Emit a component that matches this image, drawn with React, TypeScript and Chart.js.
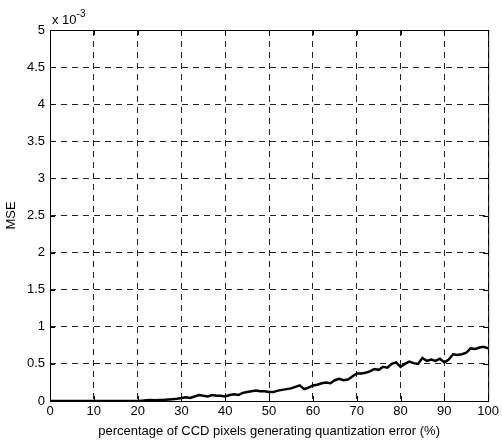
import React, { useEffect, useRef } from "react";
import { Chart, registerables } from "chart.js";

Chart.register(...registerables);

const percentages: number[] = Array.from({ length: 101 }, (_, i) => i);
// MSE values in units of 1e-3 at 1% steps
const mseValues: number[] = [
  0, 0, 0, 0, 0, 0, 0, 0, 0, 0,
  0, 0, 0, 0, 0, 0, 0, 0, 0, 0,
  0, 0.005, 0.01, 0.012, 0.01, 0.015, 0.015, 0.02, 0.025, 0.03,
  0.04, 0.05, 0.04, 0.06, 0.08, 0.07, 0.06, 0.08, 0.07, 0.07,
  0.06, 0.08, 0.09, 0.08, 0.11, 0.12, 0.13, 0.14, 0.13, 0.13,
  0.12, 0.12, 0.14, 0.15, 0.16, 0.17, 0.19, 0.21, 0.16, 0.18,
  0.21, 0.22, 0.24, 0.25, 0.24, 0.28, 0.30, 0.28, 0.29, 0.33,
  0.37, 0.37, 0.38, 0.40, 0.43, 0.42, 0.46, 0.45, 0.50, 0.52,
  0.46, 0.50, 0.53, 0.51, 0.50, 0.58, 0.54, 0.56, 0.54, 0.57,
  0.52, 0.56, 0.63, 0.62, 0.63, 0.65, 0.71, 0.70, 0.72, 0.73,
  0.71,
];
const xTicks: number[] = [0, 10, 20, 30, 40, 50, 60, 70, 80, 90, 100];
const yTicks: number[] = [0, 0.5, 1, 1.5, 2, 2.5, 3, 3.5, 4, 4.5, 5];
const xLabel = "percentage of CCD pixels generating quantization error (%)";
const yLabel = "MSE";

const FONT = "'Liberation Sans', Arial, Helvetica, sans-serif";

const boxPlugin = {
  id: "boxPlugin",
  afterDraw(chart: any) {
    const { ctx, chartArea } = chart;
    const { left, right, top, bottom } = chartArea;
    ctx.save();
    ctx.strokeStyle = "#000";
    ctx.lineWidth = 1;
    ctx.setLineDash([]);
    ctx.strokeRect(left + 0.5, top + 0.5, right - left, bottom - top);
    // inward ticks
    const xs = chart.scales.x;
    const ys = chart.scales.y;
    ctx.beginPath();
    xTicks.forEach((t) => {
      const px = Math.round(xs.getPixelForValue(t)) + 0.5;
      ctx.moveTo(px, bottom);
      ctx.lineTo(px, bottom - 5);
      ctx.moveTo(px, top);
      ctx.lineTo(px, top + 5);
    });
    yTicks.forEach((t) => {
      const py = Math.round(ys.getPixelForValue(t)) + 0.5;
      ctx.moveTo(left, py);
      ctx.lineTo(left + 5, py);
      ctx.moveTo(right, py);
      ctx.lineTo(right - 5, py);
    });
    ctx.stroke();
    ctx.restore();
  },
};

export default function App() {
  const ref = useRef<HTMLCanvasElement | null>(null);

  useEffect(() => {
    if (!ref.current) return;
    const points = percentages.map((p, i) => ({ x: p, y: mseValues[i] }));
    const chart = new Chart(ref.current, {
      type: "line",
      data: {
        datasets: [
          {
            data: points,
            borderColor: "#000",
            borderWidth: 2.5,
            pointRadius: 0,
            tension: 0,
            fill: false,
          },
        ],
      },
      options: {
        animation: false,
        responsive: false,
        maintainAspectRatio: false,
        layout: { padding: { top: 30, right: 13, left: 0, bottom: 0 } },
        plugins: { legend: { display: false }, tooltip: { enabled: false } },
        scales: {
          x: {
            type: "linear",
            min: 0,
            max: 100,
            afterFit: (s: any) => {
              s.height = 42;
            },
            afterBuildTicks: (s: any) => {
              s.ticks = xTicks.map((v) => ({ value: v }));
            },
            ticks: {
              color: "#000",
              font: { family: FONT, size: 13 },
              padding: 3,
              maxRotation: 0,
              callback: (v: any) => String(v),
            },
            grid: {
              color: "#222",
              lineWidth: 1,
              drawTicks: false,
            },
            border: { display: false, dash: [6, 5] },
            title: {
              display: true,
              text: xLabel,
              color: "#000",
              font: { family: FONT, size: 13 },
              padding: { top: 2, bottom: 4 },
            },
          },
          y: {
            type: "linear",
            min: 0,
            max: 5,
            afterFit: (s: any) => {
              s.width = 50;
            },
            afterBuildTicks: (s: any) => {
              s.ticks = yTicks.map((v) => ({ value: v }));
            },
            ticks: {
              color: "#000",
              font: { family: FONT, size: 13 },
              padding: 5,
              callback: (v: any) => String(v),
            },
            grid: {
              color: "#222",
              lineWidth: 1,
              drawTicks: false,
            },
            border: { display: false, dash: [6, 5] },
            title: {
              display: true,
              text: yLabel,
              color: "#000",
              font: { family: FONT, size: 13 },
              padding: { top: 4, bottom: 4 },
            },
          },
        },
      },
      plugins: [boxPlugin],
    });
    return () => chart.destroy();
  }, []);

  return (
    <div
      style={{
        position: "fixed",
        left: 0,
        top: 0,
        width: 502,
        height: 443,
        background: "#fff",
      }}
    >
      <canvas ref={ref} width={502} height={443} style={{ display: "block" }} />
      <div
        style={{
          position: "absolute",
          left: 52,
          top: 9,
          fontFamily: FONT,
          fontSize: 13,
          color: "#000",
          lineHeight: "13px",
          whiteSpace: "nowrap",
        }}
      >
        x 10<sup style={{ fontSize: 10, position: "relative", top: -2 }}>-3</sup>
      </div>
    </div>
  );
}
